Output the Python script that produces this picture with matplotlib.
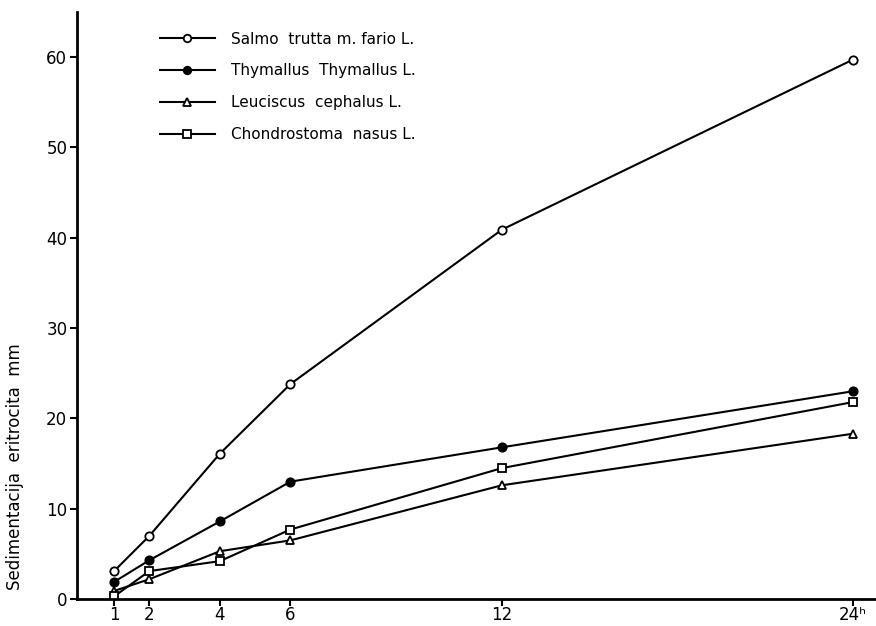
import numpy as np
import matplotlib.pyplot as plt

hours = [1, 2, 4, 6, 12, 24]
salmo = [3.1, 7.0, 16.1, 23.8, 40.9, 59.7]
thymallus = [1.9, 4.3, 8.6, 13.0, 16.8, 23.0]
leuciscus = [0.9, 2.2, 5.3, 6.5, 12.6, 18.3]
chondrostoma = [0.3, 3.1, 4.2, 7.7, 14.5, 21.8]

labels = ['Salmo  trutta m. fario L.',
          'Thymallus  Thymallus L.',
          'Leuciscus  cephalus L.',
          'Chondrostoma  nasus L.']
xtick_labels = ['1', '2', '4', '6', '12', '24\u02b0']
yticks = [0, 10, 20, 30, 40, 50, 60]

# the hour axis is stretched before 12 h and squeezed after it
h_pts = [-5, 12, 40]
p_pts = [-5, 12, 12 + 28 * 29.25 / 35.3]

def fwd(h):
    return np.interp(h, h_pts, p_pts)

def inv(p):
    return np.interp(p, p_pts, h_pts)

plt.rcParams['font.family'] = 'DejaVu Sans'

fig = plt.figure(figsize=(8.76, 6.26), dpi=100)
ax = fig.add_axes([0.088, 0.043, 0.912, 0.938])
ax.set_xscale('function', functions=(fwd, inv))

style = dict(color='black', linewidth=1.5, markersize=6, markeredgewidth=1.3)
ax.plot(hours, salmo, marker='o', markerfacecolor='white', label=labels[0], **style)
ax.plot(hours, thymallus, marker='o', markerfacecolor='black', label=labels[1], **style)
ax.plot(hours, leuciscus, marker='^', markerfacecolor='white', label=labels[2], **style)
ax.plot(hours, chondrostoma, marker='s', markerfacecolor='white', label=labels[3], **style)

ax.set_xlim(-0.05, 24.8)
ax.set_ylim(0, 65)
ax.set_xticks(hours)
ax.set_xticklabels(xtick_labels)
ax.set_yticks(yticks)

for side in ['top', 'right']:
    ax.spines[side].set_visible(False)
for side in ['left', 'bottom']:
    ax.spines[side].set_linewidth(2)

ax.tick_params(axis='both', labelsize=12, length=5, width=1.5, direction='out')
ax.tick_params(axis='x', pad=0)
ax.tick_params(axis='y', pad=2)
ax.minorticks_off()

ax.set_ylabel('Sedimentacija  eritrocita  mm', fontsize=12)
ax.yaxis.set_label_coords(-0.066, 0.225)

ax.legend(loc='upper left', bbox_to_anchor=(0.086, 0.99), frameon=False,
          handlelength=3.6, labelspacing=1.1, fontsize=11, handletextpad=1.1,
          markerscale=0.9)

fig.savefig('out.png', dpi=100)
